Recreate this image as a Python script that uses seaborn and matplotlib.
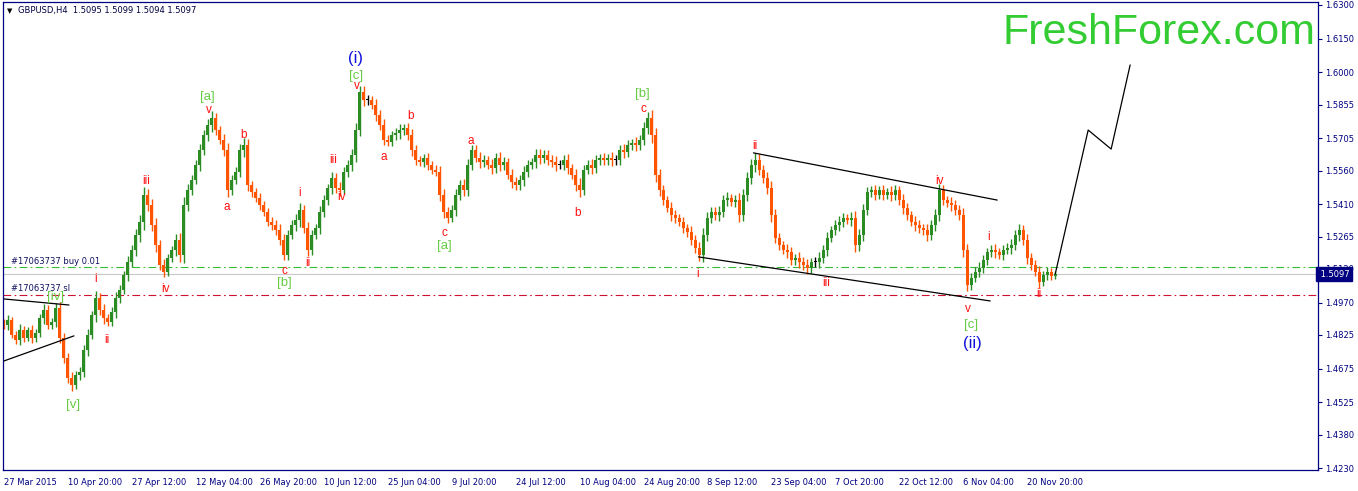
import numpy as np
import pandas as pd
import matplotlib
matplotlib.use("Agg")
import matplotlib.pyplot as plt
import matplotlib.transforms as mtransforms
import seaborn as sns

# GBPUSD H4 closes, one value every 4 bars
closes = [
    1.4870, 1.4892, 1.4825, 1.4803, 1.4847, 1.4812, 1.4847, 1.4812, 1.4834, 1.4901,
    1.4937, 1.4870, 1.4883, 1.4946, 1.4812, 1.4722, 1.4633, 1.4601, 1.4646, 1.4660,
    1.4758, 1.4825, 1.4914, 1.4990, 1.4937, 1.4901, 1.4883, 1.4928, 1.4990, 1.5026,
    1.5093, 1.5151, 1.5205, 1.5272, 1.5330, 1.5451, 1.5406, 1.5317, 1.5227, 1.5138,
    1.5107, 1.5169, 1.5205, 1.5250, 1.5183, 1.5406, 1.5473, 1.5518, 1.5585, 1.5652,
    1.5719, 1.5764, 1.5795, 1.5741, 1.5697, 1.5652, 1.5473, 1.5518, 1.5554, 1.5652,
    1.5674, 1.5495, 1.5464, 1.5437, 1.5406, 1.5375, 1.5330, 1.5317, 1.5294, 1.5250,
    1.5183, 1.5272, 1.5317, 1.5339, 1.5384, 1.5303, 1.5205, 1.5272, 1.5303, 1.5375,
    1.5428, 1.5482, 1.5527, 1.5482, 1.5473, 1.5554, 1.5585, 1.5630, 1.5741, 1.5911,
    1.5875, 1.5875, 1.5853, 1.5808, 1.5764, 1.5697, 1.5688, 1.5719, 1.5728, 1.5741,
    1.5750, 1.5719, 1.5652, 1.5607, 1.5598, 1.5616, 1.5585, 1.5563, 1.5554, 1.5451,
    1.5375, 1.5348, 1.5384, 1.5451, 1.5495, 1.5473, 1.5585, 1.5652, 1.5616, 1.5598,
    1.5607, 1.5585, 1.5571, 1.5616, 1.5585, 1.5598, 1.5540, 1.5509, 1.5495, 1.5518,
    1.5554, 1.5585, 1.5598, 1.5630, 1.5616, 1.5630, 1.5607, 1.5598, 1.5585, 1.5585,
    1.5607, 1.5571, 1.5540, 1.5495, 1.5473, 1.5563, 1.5585, 1.5571, 1.5607, 1.5616,
    1.5607, 1.5616, 1.5607, 1.5607, 1.5652, 1.5643, 1.5674, 1.5683, 1.5674, 1.5697,
    1.5750, 1.5795, 1.5719, 1.5540, 1.5473, 1.5428, 1.5393, 1.5361, 1.5348, 1.5330,
    1.5303, 1.5285, 1.5250, 1.5214, 1.5183, 1.5272, 1.5348, 1.5375, 1.5361, 1.5375,
    1.5428, 1.5437, 1.5420, 1.5428, 1.5361, 1.5451, 1.5527, 1.5585, 1.5607, 1.5563,
    1.5527, 1.5482, 1.5361, 1.5259, 1.5227, 1.5205, 1.5196, 1.5160, 1.5169, 1.5151,
    1.5138, 1.5124, 1.5151, 1.5151, 1.5169, 1.5205, 1.5259, 1.5294, 1.5317, 1.5330,
    1.5348, 1.5339, 1.5348, 1.5227, 1.5272, 1.5384, 1.5464, 1.5473, 1.5451, 1.5473,
    1.5451, 1.5464, 1.5451, 1.5473, 1.5428, 1.5393, 1.5361, 1.5330, 1.5317, 1.5303,
    1.5294, 1.5272, 1.5317, 1.5361, 1.5473, 1.5428, 1.5415, 1.5406, 1.5384, 1.5361,
    1.5205, 1.5048, 1.5080, 1.5107, 1.5124, 1.5160, 1.5196, 1.5205, 1.5196, 1.5183,
    1.5205, 1.5214, 1.5227, 1.5272, 1.5294, 1.5250, 1.5169, 1.5138, 1.5107, 1.5062,
    1.5093, 1.5107, 1.5089, 1.5097,
]
# wick length beyond the body for each of those candles, in pips
wicks = [
    18, 22, 15, 20, 25, 18, 15, 22, 18, 20,
    25, 20, 18, 22, 25, 20, 22, 25, 18, 20,
    22, 25, 20, 30, 22, 25, 18, 20, 25, 22,
    20, 25, 22, 25, 30, 35, 28, 25, 30, 22,
    25, 20, 18, 25, 30, 35, 25, 22, 20, 25,
    22, 25, 30, 22, 20, 25, 30, 22, 20, 25,
    30, 25, 20, 18, 22, 20, 18, 22, 20, 25,
    25, 22, 20, 25, 30, 22, 28, 22, 20, 25,
    22, 20, 25, 22, 28, 20, 22, 25, 30, 28,
    25, 22, 20, 25, 22, 25, 20, 18, 22, 25,
    20, 22, 25, 20, 18, 20, 22, 18, 20, 28,
    25, 22, 20, 25, 22, 25, 28, 22, 20, 25,
    22, 20, 25, 22, 28, 22, 20, 25, 22, 20,
    25, 22, 20, 25, 28, 22, 20, 22, 25, 20,
    22, 25, 20, 28, 30, 22, 20, 25, 22, 20,
    22, 20, 25, 22, 20, 25, 22, 20, 25, 22,
    25, 28, 35, 30, 25, 22, 20, 25, 22, 20,
    22, 20, 25, 22, 28, 30, 25, 22, 20, 25,
    22, 25, 20, 22, 30, 25, 28, 25, 30, 25,
    22, 25, 30, 25, 22, 20, 25, 22, 20, 25,
    22, 25, 20, 22, 25, 22, 25, 20, 22, 25,
    22, 20, 25, 30, 28, 25, 22, 20, 22, 20,
    22, 20, 25, 22, 20, 25, 22, 20, 25, 22,
    20, 25, 22, 25, 28, 22, 20, 25, 22, 20,
    30, 28, 22, 20, 25, 22, 20, 22, 25, 20,
    22, 20, 25, 22, 25, 22, 25, 22, 20, 25,
    20, 22, 18, 15,
]
first_open = 1.4880
bar_step = 4

date_labels = ["27 Mar 2015", "10 Apr 20:00", "27 Apr 12:00", "12 May 04:00",
               "26 May 20:00", "10 Jun 12:00", "25 Jun 04:00", "9 Jul 20:00",
               "24 Jul 12:00", "10 Aug 04:00", "24 Aug 20:00", "8 Sep 12:00",
               "23 Sep 04:00", "7 Oct 20:00", "22 Oct 12:00", "6 Nov 04:00",
               "20 Nov 20:00"]
date_step = 64

price_ticks = [1.6300, 1.6150, 1.6000, 1.5855, 1.5705, 1.5560, 1.5410, 1.5265,
               1.5120, 1.4970, 1.4825, 1.4675, 1.4525, 1.4380, 1.4230]

last_price = 1.5097
buy_level = 1.5127
sl_level = 1.5004

# trend lines drawn by the analyst (bar, price)
tri_upper = ([0, 65], [1.4986, 1.4959])
tri_lower = ([0, 70], [1.4709, 1.4821])
chan_upper = ([750, 994], [1.5639, 1.5428])
chan_lower = ([695, 987], [1.5174, 1.4977])
proj_bars = [1052, 1085, 1108, 1127]
proj_prices = [1.5097, 1.5741, 1.5656, 1.6032]

# wave counts: (text, bar, price)
green_labels = [("[iv]", 52, 1.4995), ("[v]", 69, 1.4512), ("[a]", 204, 1.5889),
                ("[b]", 281, 1.5057), ("[c]", 352, 1.5983), ("[a]", 441, 1.5223),
                ("[b]", 639, 1.5902), ("[c]", 968, 1.4870)]
blue_labels = [("(i)", 352, 1.6059), ("(ii)", 969, 1.4789)]
red_labels = [("i", 92, 1.5075), ("ii", 103, 1.4803), ("iii", 142, 1.5513),
              ("iv", 162, 1.5031), ("v", 205, 1.5831), ("a", 223, 1.5397),
              ("b", 240, 1.5719), ("c", 281, 1.5111), ("i", 296, 1.5460),
              ("ii", 304, 1.5147), ("iii", 329, 1.5607), ("iv", 338, 1.5442),
              ("v", 353, 1.5938), ("a", 380, 1.5621), ("b", 407, 1.5804),
              ("c", 441, 1.5281), ("a", 467, 1.5692), ("b", 574, 1.5370),
              ("c", 640, 1.5835), ("i", 694, 1.5098), ("ii", 751, 1.5670),
              ("iii", 823, 1.5057), ("iv", 936, 1.5513), ("v", 965, 1.4941),
              ("i", 985, 1.5263), ("ii", 1036, 1.5008)]

sns.set_style("white")
plt.rcParams['font.family'] = ['DejaVu Sans']

navy = "#000080"
up_col = "#2A8C22"
down_col = "#FF5500"

df = pd.DataFrame({"bar": np.arange(len(closes)) * bar_step, "close": closes,
                   "wick": np.array(wicks) / 10000})
df["open"] = [first_open] + closes[:-1]
df["low"] = df[["open", "close"]].min(axis=1)
df["high"] = df[["open", "close"]].max(axis=1)
df["size"] = (df["close"] - df["open"]).abs().clip(lower=0.0004)
df["color"] = np.where(df["close"] > df["open"], up_col,
                       np.where(df["close"] < df["open"], down_col, "black"))

fig = plt.figure(figsize=(13.58, 4.91), dpi=100)
ax = fig.add_axes([3 / 1358, 21 / 491, 1315 / 1358, 468 / 491])

ax.axhline(buy_level, color="#33BB33", lw=0.8, dashes=(7, 3, 1.5, 3), zorder=1)
ax.axhline(last_price, color="#C8C8C8", lw=0.8, zorder=1)
ax.axhline(sl_level, color="#CC1133", lw=0.8, dashes=(7, 3, 1.5, 3), zorder=1)

ax.vlines(df["bar"], df["low"] - df["wick"], df["high"] + df["wick"],
          colors=df["color"], lw=1.0, zorder=2)
ax.bar(df["bar"], df["size"], bottom=df["low"], width=3.0,
       color=df["color"], linewidth=0, zorder=2)

for xs, ys in [tri_upper, tri_lower, chan_upper, chan_lower]:
    sns.lineplot(x=xs, y=ys, color="black", lw=0.9, ax=ax, zorder=3)
sns.lineplot(x=proj_bars, y=proj_prices, color="black", lw=0.9, ax=ax, zorder=3)

lab_font = ['Liberation Sans', 'DejaVu Sans']
for t, b, p in red_labels:
    ax.text(b, p, t, color="#FF1010", fontsize=8.5, ha="center", va="center",
            family=lab_font, zorder=4)
for t, b, p in green_labels:
    ax.text(b, p, t, color="#66CC44", fontsize=9.5, ha="center", va="center",
            family=lab_font, zorder=4)
for t, b, p in blue_labels:
    ax.text(b, p, t, color="#1010DD", fontsize=12, ha="center", va="center",
            family=lab_font, zorder=4)

ax.text(7, 1.5134, "#17063737 buy 0.01", color="#101060", fontsize=6,
        ha="left", va="bottom", zorder=4)
ax.text(7, 1.5013, "#17063737 sl", color="#101060", fontsize=6,
        ha="left", va="bottom", zorder=3)

ax.set_xlim(-1, 1315)
ax.set_ylim(1.42215, 1.63134)

ax.yaxis.tick_right()
ax.set_yticks(price_ticks)
ax.set_yticklabels([f"{v:.4f}" for v in price_ticks])
ax.tick_params(axis="y", direction="out", length=3, width=0.8, colors=navy,
               labelsize=6, pad=2)
ax.set_xticks(np.arange(len(date_labels)) * date_step)
ax.set_xticklabels(date_labels, ha="left")
ax.tick_params(axis="x", direction="out", length=4, width=0.8, colors=navy,
               labelsize=6, pad=2)
for s in ax.spines.values():
    s.set_color(navy)
    s.set_linewidth(0.9)
ax.set_xlabel("")
ax.set_ylabel("")

# current price box on the price scale
trans = mtransforms.blended_transform_factory(ax.transAxes, ax.transData)
ax.text(1.0, last_price, " 1.5097", transform=trans, color="white", fontsize=6,
        ha="left", va="center", zorder=5, clip_on=False,
        bbox=dict(boxstyle="square,pad=0.3", fc=navy, ec=navy))

fig.text(7 / 1358, 1 - 11 / 491, "\u25bc", fontsize=5, color="black", va="center")
fig.text(18 / 1358, 1 - 11 / 491, "GBPUSD,H4  1.5095 1.5099 1.5094 1.5097",
         fontsize=6, color="#000040", va="center")
fig.text(1316 / 1358, 1 - 44 / 491, "FreshForex.com", fontsize=31,
         color="#33CC33", ha="right", va="baseline", family=lab_font)

fig.savefig("out.png", dpi=100)
